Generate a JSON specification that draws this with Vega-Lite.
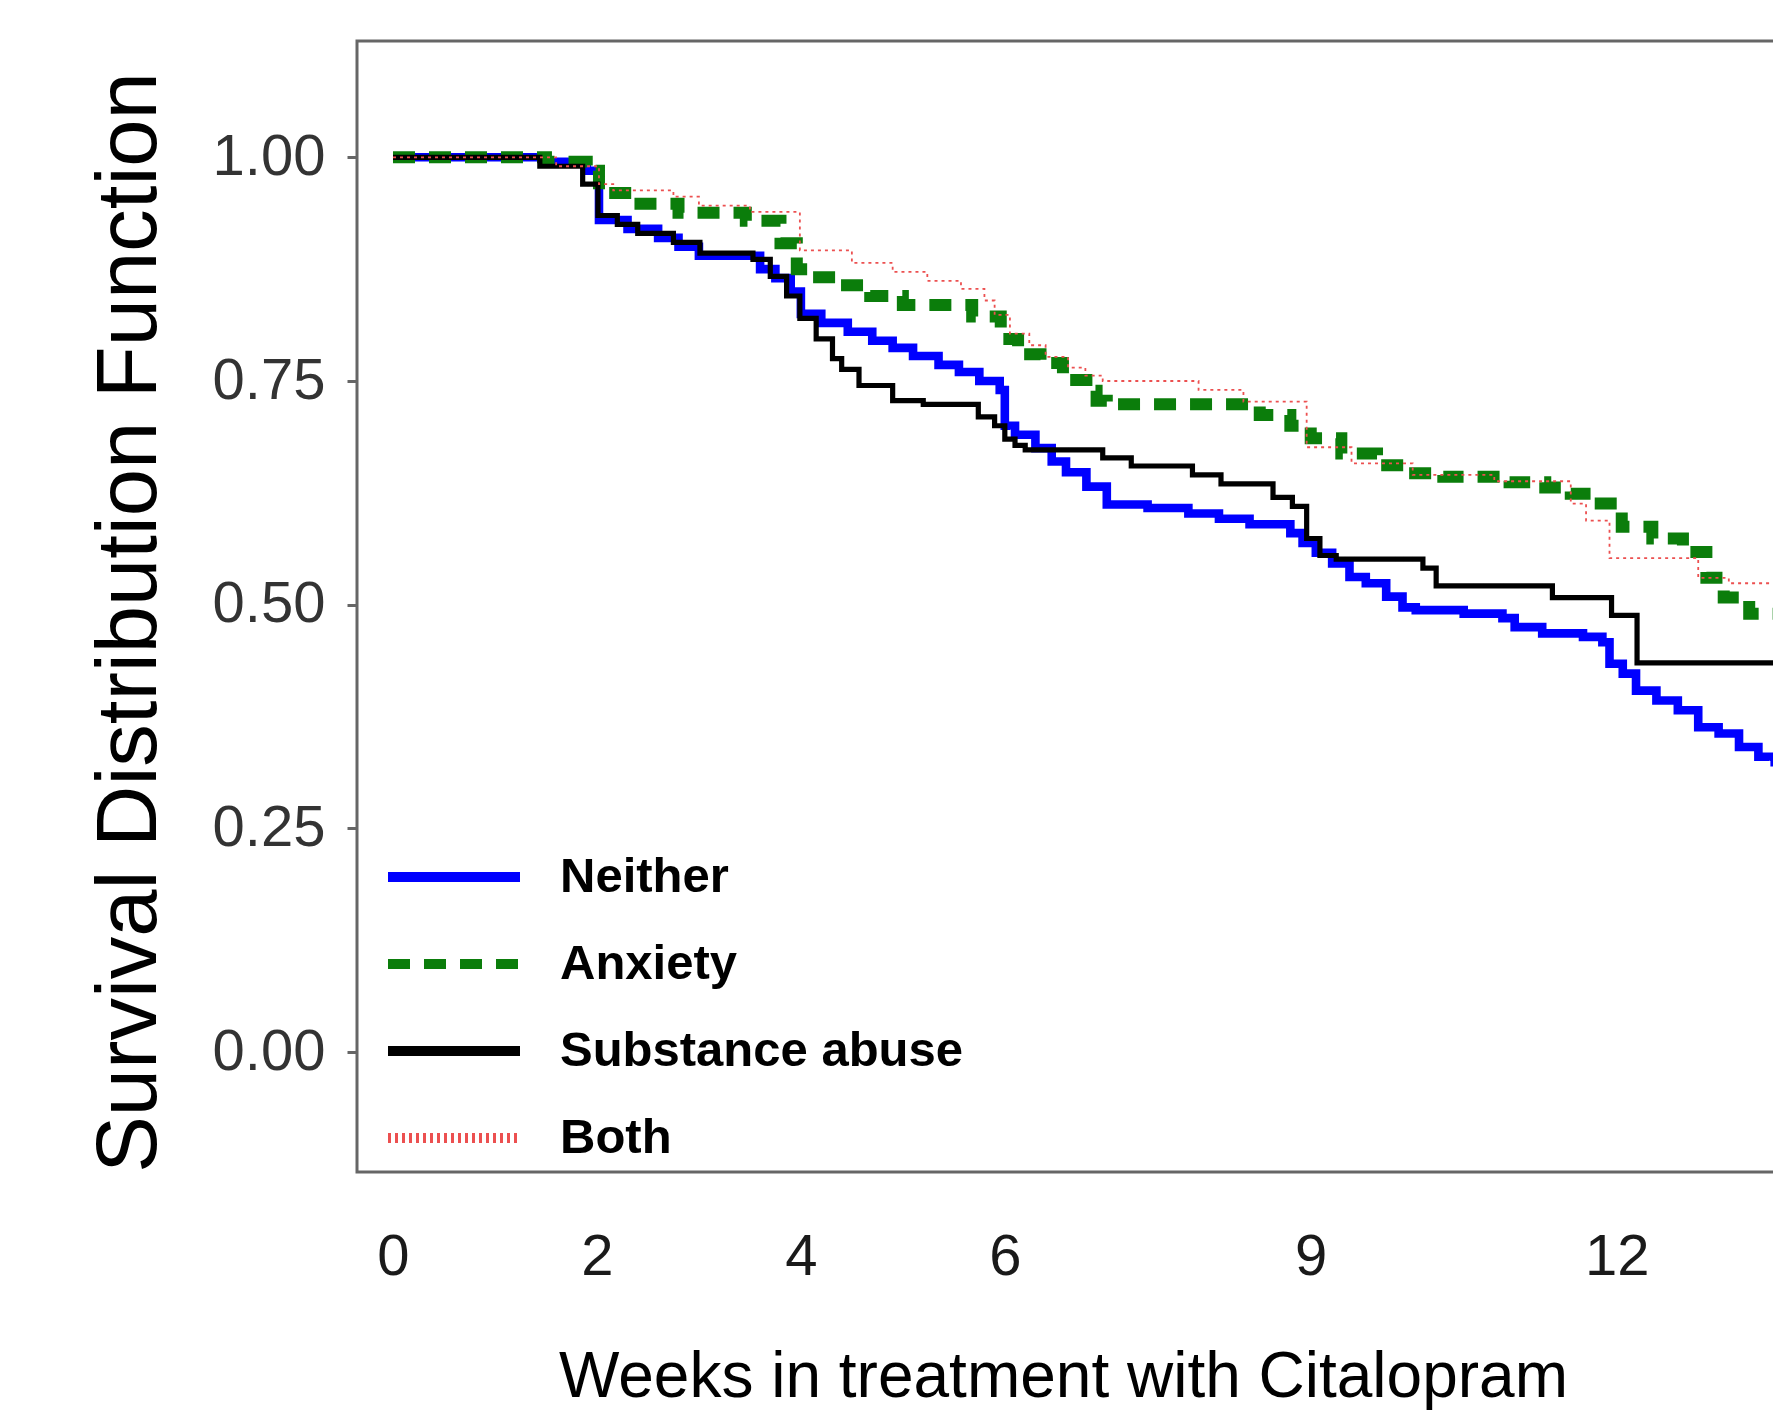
{
  "$schema": "https://vega.github.io/schema/vega-lite/v6.json",
  "autosize": "none",
  "padding": {"left": 357, "top": 41, "right": 0, "bottom": 238},
  "width": 1433,
  "height": 1131,
  "background": "white",
  "config": {
    "view": {"stroke": "#666666", "strokeWidth": 3},
    "axis": {"grid": false, "domain": false}
  },
  "data": {
    "values": [
      {"g": "Neither", "t": 0, "s": 1.0}, {"g": "Neither", "t": 1.5, "s": 0.995}, {"g": "Neither", "t": 1.9, "s": 0.985},
      {"g": "Neither", "t": 2.02, "s": 0.93}, {"g": "Neither", "t": 2.3, "s": 0.92}, {"g": "Neither", "t": 2.6, "s": 0.91},
      {"g": "Neither", "t": 2.8, "s": 0.9}, {"g": "Neither", "t": 3.0, "s": 0.89}, {"g": "Neither", "t": 3.6, "s": 0.875},
      {"g": "Neither", "t": 3.75, "s": 0.865}, {"g": "Neither", "t": 3.9, "s": 0.85}, {"g": "Neither", "t": 4.0, "s": 0.825},
      {"g": "Neither", "t": 4.2, "s": 0.815}, {"g": "Neither", "t": 4.46, "s": 0.805}, {"g": "Neither", "t": 4.7, "s": 0.795},
      {"g": "Neither", "t": 4.9, "s": 0.787}, {"g": "Neither", "t": 5.1, "s": 0.778}, {"g": "Neither", "t": 5.35, "s": 0.768},
      {"g": "Neither", "t": 5.55, "s": 0.76}, {"g": "Neither", "t": 5.75, "s": 0.75}, {"g": "Neither", "t": 5.95, "s": 0.74},
      {"g": "Neither", "t": 6.0, "s": 0.7}, {"g": "Neither", "t": 6.1, "s": 0.69}, {"g": "Neither", "t": 6.3, "s": 0.675},
      {"g": "Neither", "t": 6.46, "s": 0.66}, {"g": "Neither", "t": 6.6, "s": 0.648}, {"g": "Neither", "t": 6.8, "s": 0.632},
      {"g": "Neither", "t": 7.0, "s": 0.612}, {"g": "Neither", "t": 7.4, "s": 0.608}, {"g": "Neither", "t": 7.8, "s": 0.602},
      {"g": "Neither", "t": 8.1, "s": 0.596}, {"g": "Neither", "t": 8.4, "s": 0.59}, {"g": "Neither", "t": 8.8, "s": 0.58},
      {"g": "Neither", "t": 8.92, "s": 0.569}, {"g": "Neither", "t": 9.05, "s": 0.558}, {"g": "Neither", "t": 9.21, "s": 0.546},
      {"g": "Neither", "t": 9.38, "s": 0.531}, {"g": "Neither", "t": 9.54, "s": 0.524}, {"g": "Neither", "t": 9.74, "s": 0.509},
      {"g": "Neither", "t": 9.9, "s": 0.497}, {"g": "Neither", "t": 10.03, "s": 0.494}, {"g": "Neither", "t": 10.5, "s": 0.49},
      {"g": "Neither", "t": 10.88, "s": 0.485}, {"g": "Neither", "t": 11.0, "s": 0.475}, {"g": "Neither", "t": 11.27, "s": 0.468},
      {"g": "Neither", "t": 11.67, "s": 0.464}, {"g": "Neither", "t": 11.86, "s": 0.458}, {"g": "Neither", "t": 11.93, "s": 0.434},
      {"g": "Neither", "t": 12.06, "s": 0.423}, {"g": "Neither", "t": 12.19, "s": 0.404}, {"g": "Neither", "t": 12.39, "s": 0.393},
      {"g": "Neither", "t": 12.6, "s": 0.382}, {"g": "Neither", "t": 12.8, "s": 0.363}, {"g": "Neither", "t": 13.0, "s": 0.356},
      {"g": "Neither", "t": 13.2, "s": 0.341}, {"g": "Neither", "t": 13.39, "s": 0.33}, {"g": "Neither", "t": 13.55, "s": 0.324},
      {"g": "Neither", "t": 13.8, "s": 0.32},

      {"g": "Anxiety", "t": 0, "s": 1.0}, {"g": "Anxiety", "t": 1.5, "s": 0.995}, {"g": "Anxiety", "t": 1.9, "s": 0.985},
      {"g": "Anxiety", "t": 2.02, "s": 0.96}, {"g": "Anxiety", "t": 2.35, "s": 0.948}, {"g": "Anxiety", "t": 2.8, "s": 0.938},
      {"g": "Anxiety", "t": 3.46, "s": 0.929}, {"g": "Anxiety", "t": 3.8, "s": 0.904}, {"g": "Anxiety", "t": 3.96, "s": 0.875},
      {"g": "Anxiety", "t": 4.1, "s": 0.866}, {"g": "Anxiety", "t": 4.35, "s": 0.857}, {"g": "Anxiety", "t": 4.68, "s": 0.845},
      {"g": "Anxiety", "t": 5.0, "s": 0.835}, {"g": "Anxiety", "t": 5.68, "s": 0.822}, {"g": "Anxiety", "t": 5.96, "s": 0.797},
      {"g": "Anxiety", "t": 6.13, "s": 0.78}, {"g": "Anxiety", "t": 6.35, "s": 0.77}, {"g": "Anxiety", "t": 6.57, "s": 0.751},
      {"g": "Anxiety", "t": 6.8, "s": 0.739}, {"g": "Anxiety", "t": 6.9, "s": 0.728}, {"g": "Anxiety", "t": 7.0, "s": 0.724},
      {"g": "Anxiety", "t": 8.5, "s": 0.712}, {"g": "Anxiety", "t": 8.8, "s": 0.7}, {"g": "Anxiety", "t": 9.0, "s": 0.686},
      {"g": "Anxiety", "t": 9.3, "s": 0.669}, {"g": "Anxiety", "t": 9.65, "s": 0.656}, {"g": "Anxiety", "t": 9.95, "s": 0.647},
      {"g": "Anxiety", "t": 10.3, "s": 0.643}, {"g": "Anxiety", "t": 10.95, "s": 0.637}, {"g": "Anxiety", "t": 11.3, "s": 0.631},
      {"g": "Anxiety", "t": 11.55, "s": 0.624}, {"g": "Anxiety", "t": 11.78, "s": 0.613}, {"g": "Anxiety", "t": 12.05, "s": 0.587},
      {"g": "Anxiety", "t": 12.35, "s": 0.574}, {"g": "Anxiety", "t": 12.65, "s": 0.559}, {"g": "Anxiety", "t": 12.88, "s": 0.53},
      {"g": "Anxiety", "t": 13.05, "s": 0.508}, {"g": "Anxiety", "t": 13.3, "s": 0.49}, {"g": "Anxiety", "t": 13.8, "s": 0.485},

      {"g": "Substance abuse", "t": 0, "s": 1.0}, {"g": "Substance abuse", "t": 1.44, "s": 0.99}, {"g": "Substance abuse", "t": 1.86, "s": 0.97},
      {"g": "Substance abuse", "t": 2.01, "s": 0.935}, {"g": "Substance abuse", "t": 2.2, "s": 0.925}, {"g": "Substance abuse", "t": 2.4, "s": 0.915},
      {"g": "Substance abuse", "t": 2.75, "s": 0.905}, {"g": "Substance abuse", "t": 3.01, "s": 0.893}, {"g": "Substance abuse", "t": 3.53, "s": 0.886},
      {"g": "Substance abuse", "t": 3.7, "s": 0.867}, {"g": "Substance abuse", "t": 3.86, "s": 0.845}, {"g": "Substance abuse", "t": 3.99, "s": 0.82},
      {"g": "Substance abuse", "t": 4.15, "s": 0.797}, {"g": "Substance abuse", "t": 4.31, "s": 0.775}, {"g": "Substance abuse", "t": 4.4, "s": 0.763},
      {"g": "Substance abuse", "t": 4.57, "s": 0.745}, {"g": "Substance abuse", "t": 4.9, "s": 0.728}, {"g": "Substance abuse", "t": 5.2, "s": 0.724},
      {"g": "Substance abuse", "t": 5.74, "s": 0.71}, {"g": "Substance abuse", "t": 5.9, "s": 0.7}, {"g": "Substance abuse", "t": 6.0, "s": 0.685},
      {"g": "Substance abuse", "t": 6.1, "s": 0.678}, {"g": "Substance abuse", "t": 6.2, "s": 0.673}, {"g": "Substance abuse", "t": 6.96, "s": 0.664},
      {"g": "Substance abuse", "t": 7.24, "s": 0.655}, {"g": "Substance abuse", "t": 7.84, "s": 0.645}, {"g": "Substance abuse", "t": 8.12, "s": 0.635},
      {"g": "Substance abuse", "t": 8.63, "s": 0.62}, {"g": "Substance abuse", "t": 8.82, "s": 0.61}, {"g": "Substance abuse", "t": 8.96, "s": 0.574},
      {"g": "Substance abuse", "t": 9.09, "s": 0.555}, {"g": "Substance abuse", "t": 9.25, "s": 0.551}, {"g": "Substance abuse", "t": 10.1, "s": 0.541},
      {"g": "Substance abuse", "t": 10.23, "s": 0.521}, {"g": "Substance abuse", "t": 11.37, "s": 0.508}, {"g": "Substance abuse", "t": 11.95, "s": 0.488},
      {"g": "Substance abuse", "t": 12.2, "s": 0.435}, {"g": "Substance abuse", "t": 13.8, "s": 0.435},

      {"g": "Both", "t": 0, "s": 1.0}, {"g": "Both", "t": 1.6, "s": 0.99}, {"g": "Both", "t": 2.02, "s": 0.97},
      {"g": "Both", "t": 2.16, "s": 0.963}, {"g": "Both", "t": 2.75, "s": 0.956}, {"g": "Both", "t": 3.0, "s": 0.946},
      {"g": "Both", "t": 3.5, "s": 0.939}, {"g": "Both", "t": 3.99, "s": 0.896}, {"g": "Both", "t": 4.5, "s": 0.882},
      {"g": "Both", "t": 4.9, "s": 0.872}, {"g": "Both", "t": 5.24, "s": 0.862}, {"g": "Both", "t": 5.57, "s": 0.853},
      {"g": "Both", "t": 5.8, "s": 0.84}, {"g": "Both", "t": 5.9, "s": 0.824}, {"g": "Both", "t": 6.05, "s": 0.803},
      {"g": "Both", "t": 6.24, "s": 0.79}, {"g": "Both", "t": 6.4, "s": 0.777}, {"g": "Both", "t": 6.62, "s": 0.765},
      {"g": "Both", "t": 6.79, "s": 0.756}, {"g": "Both", "t": 6.96, "s": 0.75}, {"g": "Both", "t": 7.9, "s": 0.74},
      {"g": "Both", "t": 8.34, "s": 0.727}, {"g": "Both", "t": 8.96, "s": 0.676}, {"g": "Both", "t": 9.4, "s": 0.658},
      {"g": "Both", "t": 10.0, "s": 0.645}, {"g": "Both", "t": 10.8, "s": 0.638}, {"g": "Both", "t": 11.55, "s": 0.613},
      {"g": "Both", "t": 11.7, "s": 0.594}, {"g": "Both", "t": 11.93, "s": 0.552}, {"g": "Both", "t": 12.8, "s": 0.53},
      {"g": "Both", "t": 13.1, "s": 0.524}, {"g": "Both", "t": 13.8, "s": 0.524}
    ]
  },
  "mark": {"type": "line", "interpolate": "step-after", "clip": true},
  "encoding": {
    "x": {
      "field": "t", "type": "quantitative",
      "scale": {"domain": [-0.353, 13.7], "nice": false, "zero": false},
      "axis": {
        "values": [0, 2, 4, 6, 9, 12], "ticks": false, "tickSize": 0,
        "labelFont": "Liberation Sans", "labelFontSize": 58, "labelColor": "#1a1a1a",
        "labelBaseline": "alphabetic", "labelPadding": 102, "labelFlush": false,
        "title": "Weeks in treatment with Citalopram",
        "titleFont": "Liberation Sans", "titleFontSize": 64, "titleFontWeight": "normal",
        "titleColor": "#000000", "titleBaseline": "alphabetic", "titleX": 706, "titleY": 224, "titleAlign": "center"
      }
    },
    "y": {
      "field": "s", "type": "quantitative",
      "scale": {"domain": [-0.134, 1.13], "nice": false, "zero": false},
      "axis": {
        "values": [0, 0.25, 0.5, 0.75, 1], "format": ".2f",
        "tickSize": 10, "tickWidth": 3, "tickColor": "#666666",
        "labelFont": "Liberation Sans", "labelFontSize": 58, "labelColor": "#333333", "labelPadding": 22,
        "title": "Survival Distribution Function",
        "titleFont": "Liberation Sans", "titleFontSize": 85, "titleFontWeight": "normal", "titleColor": "#000000",
        "titleBaseline": "alphabetic", "titleAngle": -90, "titleX": -202, "titleY": 581, "titleAlign": "center"
      }
    },
    "color": {
      "field": "g", "type": "nominal",
      "scale": {"domain": ["Neither", "Anxiety", "Substance abuse", "Both"], "range": ["#0000ff", "#0b7d0b", "#000000", "#ec5050"]},
      "legend": {
        "title": null, "orient": "none", "legendX": 26, "legendY": 811,
        "symbolType": "stroke", "symbolSize": 17424, "symbolStrokeWidth": 10, "clipHeight": 50,
        "labelFont": "Liberation Sans", "labelFontWeight": "bold", "labelFontSize": 49, "labelColor": "#000000",
        "labelLimit": 0, "labelOffset": 35, "rowPadding": 37, "padding": 0
      }
    },
    "strokeDash": {
      "field": "g", "type": "nominal",
      "scale": {"domain": ["Neither", "Anxiety", "Substance abuse", "Both"], "range": [[1, 0], [22, 14], [1, 0], [3, 4]]},
      "legend": null
    },
    "strokeWidth": {
      "field": "g", "type": "nominal",
      "scale": {"type": "point", "domain": ["Both", "Substance abuse", "Neither", "Anxiety"], "range": [1.8, 12], "padding": 0},
      "legend": null
    }
  }
}
